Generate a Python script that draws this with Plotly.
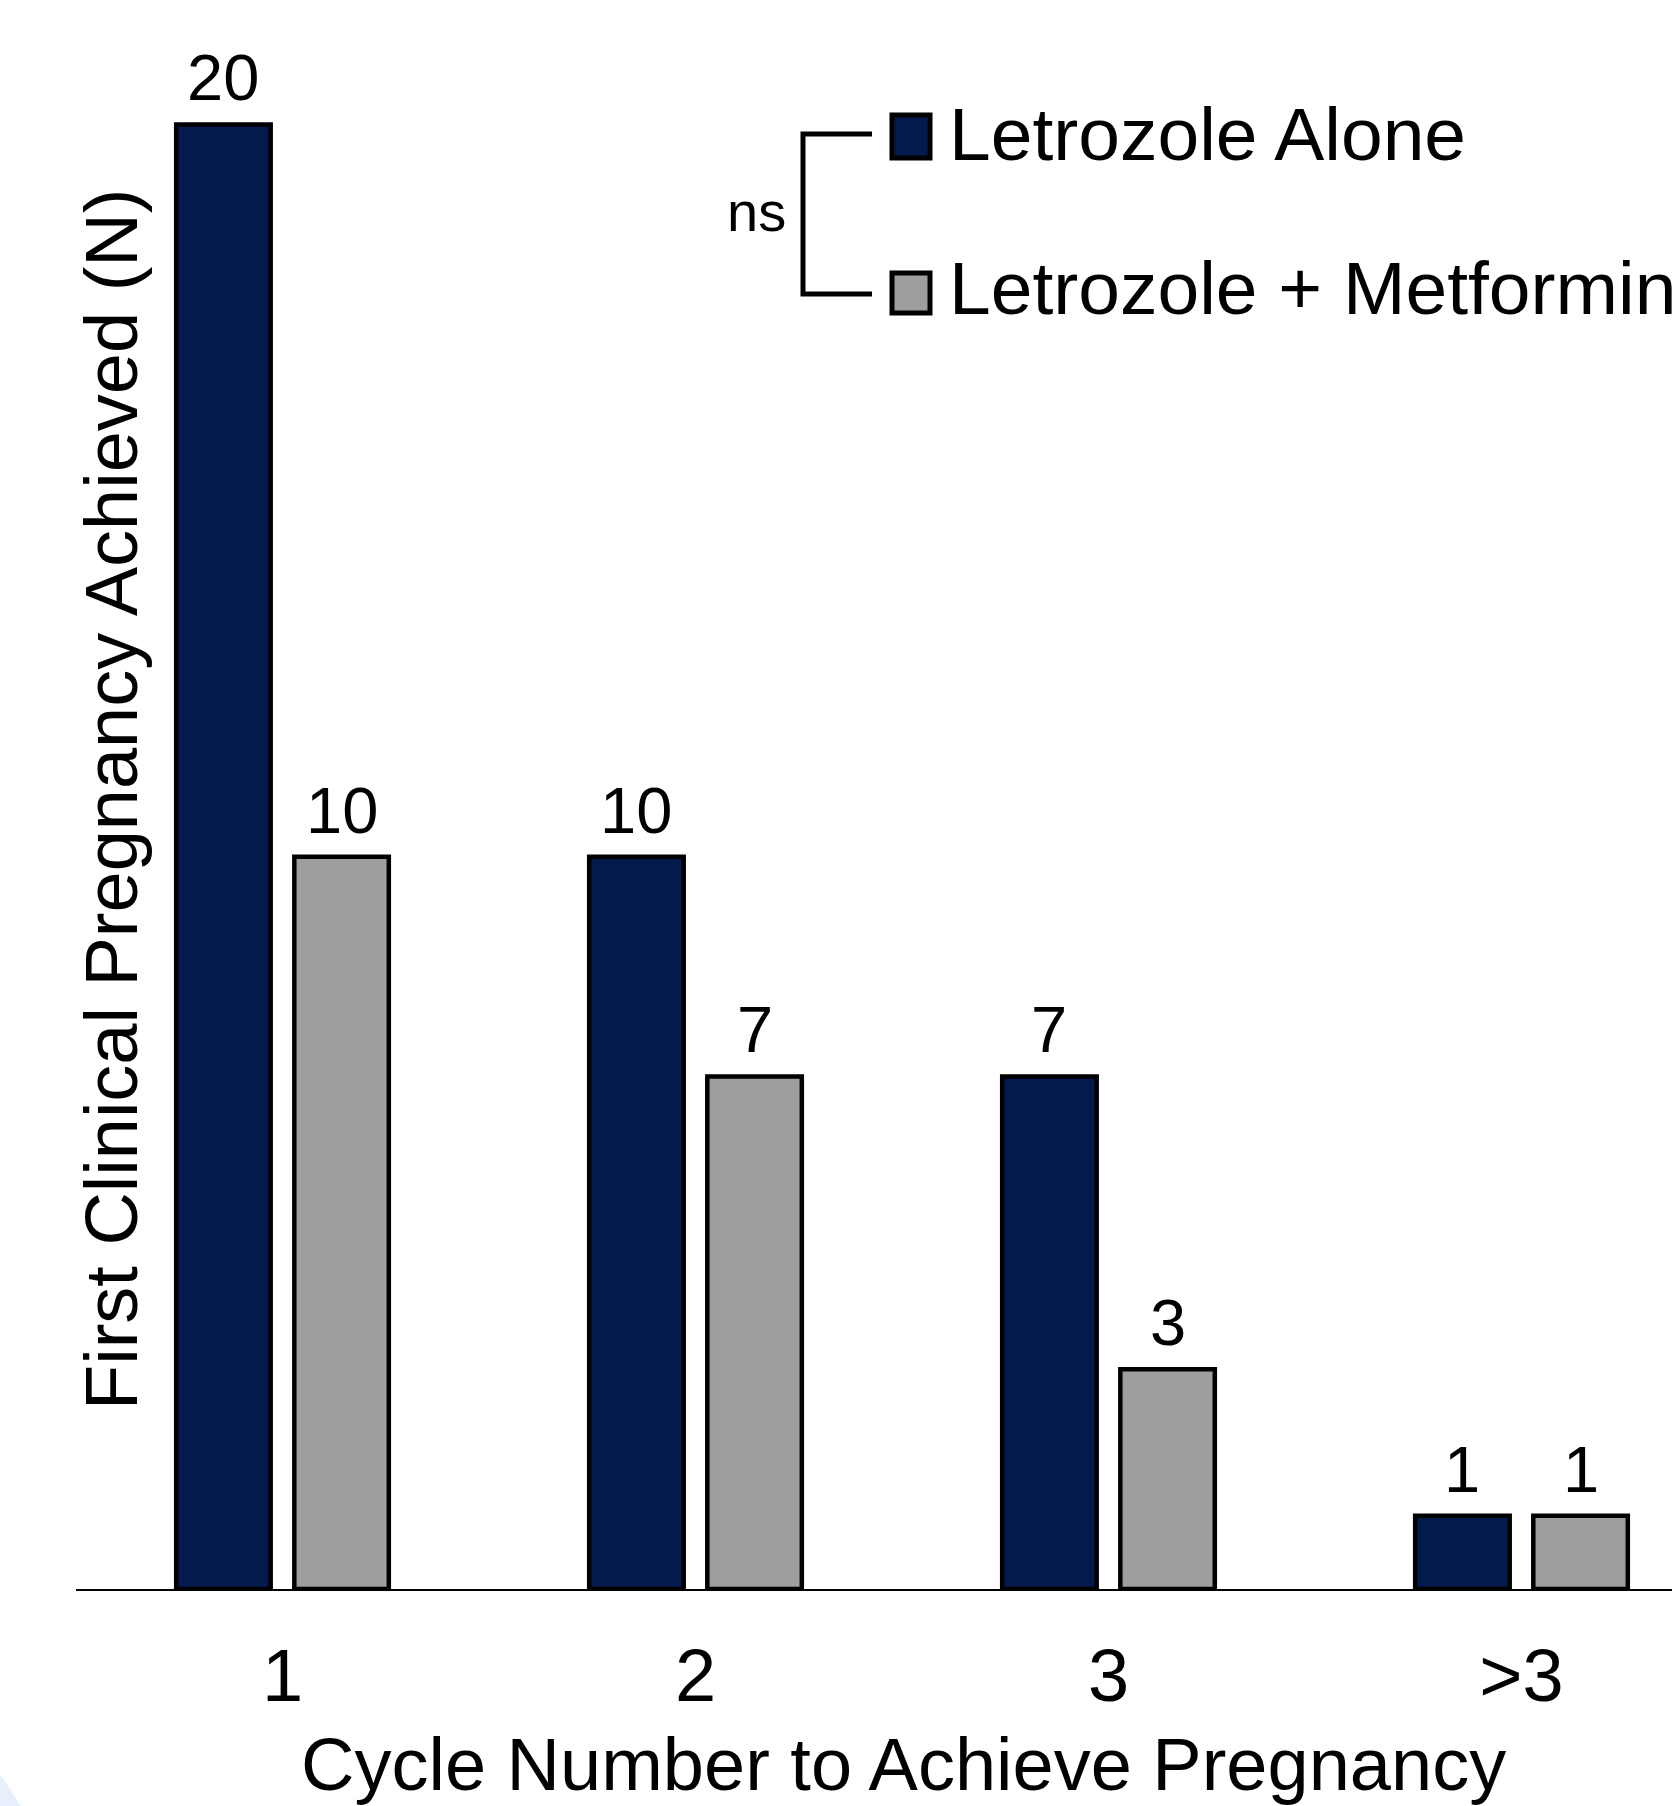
import plotly.graph_objects as go

categories = ["1", "2", "3", ">3"]
letrozole_alone = [20, 10, 7, 1]
letrozole_metformin = [10, 7, 3, 1]
series_names = ["Letrozole Alone", "Letrozole + Metformin"]
x_title = "Cycle Number to Achieve Pregnancy"
y_title = "First Clinical Pregnancy Achieved (N)"

NAVY = "#041a4d"
GRAY = "#9e9e9e"
FONT = "Liberation Sans, Arial, sans-serif"

W, H = 1672, 1806
ML, MR, MT, MB = 76, 0, 0, 217
PW, PH = W - ML - MR, H - MT - MB
UNIT_PX = 413.0
BARGAP = 0.428
BARGROUPGAP = 0.2


def px(x):
    return (x - ML) / PW


def py(y):
    return (MT + PH - y) / PH


fig = go.Figure()
series = [(series_names[0], letrozole_alone, NAVY, -1),
          (series_names[1], letrozole_metformin, GRAY, 1)]
for name, vals, col, side in series:
    fig.add_trace(go.Bar(
        x=categories, y=vals, name=name,
        marker=dict(color=col, line=dict(color="black", width=4.5)),
        showlegend=False, hoverinfo="x+y+name",
    ))
    # value labels above bars (category axis: position by category index)
    off = side * (1 - BARGAP) / 4 * UNIT_PX
    for i, v in enumerate(vals):
        fig.add_annotation(
            x=i, y=v, xref="x", yref="y", text=str(v), showarrow=False,
            xanchor="center", yanchor="bottom", xshift=off, yshift=8,
            font=dict(size=65, family=FONT, color="black"),
        )

fig.update_layout(
    width=W, height=H,
    margin=dict(l=ML, r=MR, t=MT, b=MB),
    paper_bgcolor="white", plot_bgcolor="white",
    barmode="group", bargap=BARGAP, bargroupgap=BARGROUPGAP,
    font=dict(family=FONT, color="black"),
    showlegend=False,
)
fig.update_xaxes(
    type="category", range=[-0.5, -0.5 + PW / UNIT_PX],
    showline=True, linecolor="black", linewidth=2,
    ticks="outside", ticklen=21, tickcolor="rgba(0,0,0,0)",
    tickfont=dict(size=74, family=FONT, color="black"),
    showgrid=False, zeroline=False,
)
fig.update_yaxes(
    range=[0, PH / 73.23], showticklabels=False, showgrid=False,
    zeroline=False, showline=False, ticks="",
)

# x-axis title
fig.add_annotation(
    text=x_title, xref="paper", yref="paper", x=px(903), y=py(1764),
    showarrow=False, xanchor="center", yanchor="middle",
    font=dict(size=74, family=FONT, color="black"),
)
# y-axis title
fig.add_annotation(
    text=y_title, xref="paper", yref="paper", x=px(112), y=py(800),
    textangle=-90, showarrow=False, xanchor="center", yanchor="middle",
    font=dict(size=74, family=FONT, color="black"),
)

# custom legend
legend_rows = [(series_names[0], NAVY, 115, 158, 134),
               (series_names[1], GRAY, 273, 313, 288)]
for name, col, y0, y1, yc in legend_rows:
    fig.add_shape(type="rect", xref="paper", yref="paper",
                  x0=px(892), x1=px(930), y0=py(y1), y1=py(y0),
                  fillcolor=col, line=dict(color="black", width=5))
    fig.add_annotation(text=name, xref="paper", yref="paper",
                       x=px(947), y=py(yc), xanchor="left", yanchor="middle",
                       showarrow=False,
                       font=dict(size=75, family=FONT, color="black"))

# significance bracket
fig.add_shape(type="path", xref="paper", yref="paper",
              path=f"M {px(872)} {py(134)} L {px(803)} {py(134)} L {px(803)} {py(294)} L {px(872)} {py(294)}",
              line=dict(color="black", width=5))
fig.add_annotation(text="ns", xref="paper", yref="paper",
                   x=px(756), y=py(211), xanchor="center", yanchor="middle",
                   showarrow=False, font=dict(size=56, family=FONT, color="black"))

# faint decorative arc at bottom-left
fig.add_shape(type="circle", xref="paper", yref="paper", layer="below",
              x0=px(-300 - 375), x1=px(-300 + 375), y0=py(2000 + 375), y1=py(2000 - 375),
              fillcolor="#e8effc", line=dict(width=0))

fig.write_html("out.html", config={"displayModeBar": False},
               post_script="document.body.style.margin='0';")
